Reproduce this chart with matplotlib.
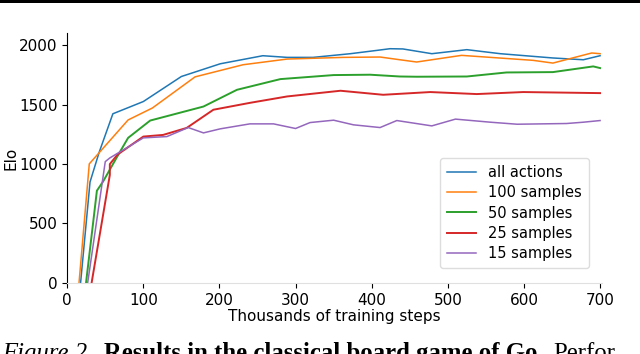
import matplotlib
matplotlib.use("Agg")
import matplotlib.pyplot as plt
from matplotlib.patches import Rectangle

# training steps (thousands) and Elo per series
x_all = [17, 30, 42, 60, 100, 150, 201, 257, 289, 323, 372, 407, 424, 441, 479, 525, 569, 638, 678, 700]
y_all = [-40, 850, 1100, 1424, 1527, 1738, 1845, 1913, 1899, 1899, 1930, 1958, 1972, 1970, 1930, 1964, 1930, 1894, 1879, 1913]

x_100 = [15, 29, 80, 112, 168, 231, 289, 363, 411, 437, 459, 518, 612, 638, 689, 700]
y_100 = [-40, 1002, 1372, 1473, 1735, 1837, 1885, 1899, 1902, 1879, 1860, 1916, 1874, 1851, 1936, 1930]

x_50 = [24, 39, 47, 67, 80, 109, 179, 223, 280, 350, 398, 437, 459, 525, 577, 638, 691, 700]
y_50 = [-40, 776, 852, 1078, 1221, 1367, 1485, 1626, 1716, 1750, 1753, 1738, 1736, 1738, 1772, 1775, 1823, 1809]

x_25 = [31, 56, 56, 66, 100, 126, 157, 192, 240, 289, 359, 415, 477, 538, 599, 700]
y_25 = [-40, 909, 1000, 1080, 1232, 1246, 1305, 1458, 1516, 1570, 1618, 1584, 1607, 1590, 1607, 1598]

x_15 = [26, 50, 56, 100, 131, 159, 179, 201, 240, 271, 300, 319, 350, 376, 411, 433, 479, 510, 556, 591, 656, 678, 700]
y_15 = [-40, 1021, 1052, 1221, 1232, 1308, 1263, 1297, 1339, 1339, 1300, 1350, 1370, 1331, 1308, 1367, 1322, 1379, 1353, 1336, 1342, 1353, 1367]

labels = ["all actions", "100 samples", "50 samples", "25 samples", "15 samples"]
colors = ["#1f77b4", "#ff7f0e", "#2ca02c", "#d62728", "#9467bd"]
widths = [1.1, 1.1, 1.4, 1.4, 1.1]

fig = plt.figure(figsize=(6.4, 3.54), dpi=100)
ax = fig.add_axes([0.105, 0.201, 0.835, 0.706])

series = [(x_all, y_all), (x_100, y_100), (x_50, y_50), (x_25, y_25), (x_15, y_15)]
for (xs, ys), lab, c, w in zip(series, labels, colors, widths):
    ax.plot(xs, ys, color=c, lw=w, label=lab)

ax.set_xlim(0, 702)
ax.set_ylim(0, 2105)
ax.set_xticks([0, 100, 200, 300, 400, 500, 600, 700])
ax.set_yticks([0, 500, 1000, 1500, 2000])
ax.tick_params(labelsize=11, length=3.5)
ax.spines["top"].set_visible(False)
ax.spines["right"].set_visible(False)
ax.spines["bottom"].set_color("#e0e0e0")
ax.set_xlabel("Thousands of training steps", fontsize=11, labelpad=1)
ax.set_ylabel("Elo", fontsize=11)
ax.yaxis.set_label_coords(-0.092, 0.5)

ax.legend(loc="lower right", fontsize=10.5, frameon=True, framealpha=1,
          edgecolor="#dddddd", handlelength=2.0, borderpad=0.5,
          labelspacing=0.35, bbox_to_anchor=(0.99, 0.03))

# black rule at the top of the page
fig.add_artist(Rectangle((0, 0.991), 1, 0.009, transform=fig.transFigure,
                         color="black", lw=0))

# caption, cut off at the bottom edge like the source
cap_y = -0.016
fs = 17.8
t1 = fig.text(0.004, cap_y, "Figure 2.", fontsize=fs, family="Liberation Serif",
              style="italic", va="baseline")
fig.canvas.draw()
r = fig.canvas.get_renderer()
bb = t1.get_window_extent(r)
x2 = (bb.x1 + 10) / fig.bbox.width
t2 = fig.text(x2, cap_y, "Results in the classical board game of Go.", fontsize=fs,
              family="Liberation Serif", weight="bold", va="baseline")
bb2 = t2.get_window_extent(r)
x3 = (bb2.x1 + 10) / fig.bbox.width
fig.text(x3, cap_y, "Perfor", fontsize=fs, family="Liberation Serif", va="baseline")

fig.savefig("out.png", dpi=100)
